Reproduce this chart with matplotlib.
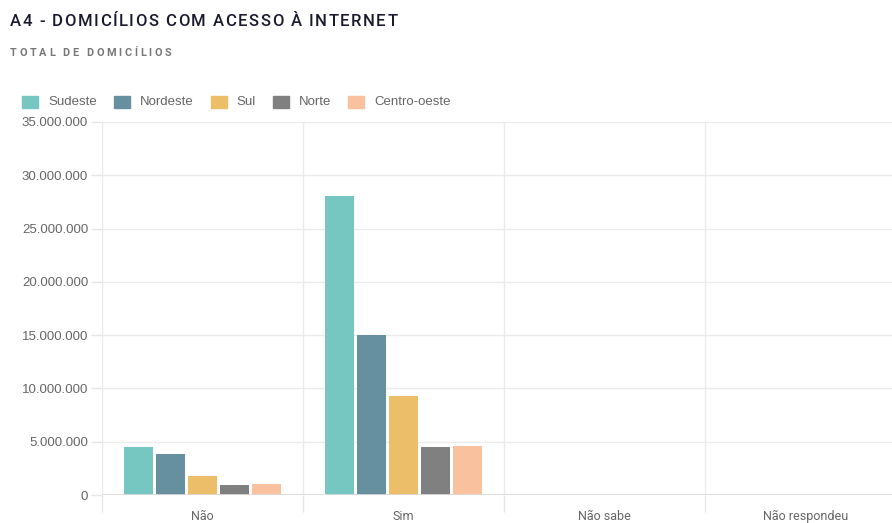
import matplotlib
matplotlib.use('Agg')
import matplotlib.pyplot as plt
from matplotlib.patches import Rectangle
import numpy as np

categories = ['Não', 'Sim', 'Não sabe', 'Não respondeu']
regions = ['Sudeste', 'Nordeste', 'Sul', 'Norte', 'Centro-oeste']
colors = ['#76c6c1', '#668fa0', '#edbe6a', '#808080', '#f9c19d']

# households per region, one list per answer category
sudeste = [4500000, 28050000, 30000, 20000]
nordeste = [3850000, 15000000, 25000, 15000]
sul = [1800000, 9300000, 10000, 8000]
norte = [950000, 4500000, 8000, 5000]
centro_oeste = [1000000, 4600000, 8000, 5000]
series = [sudeste, nordeste, sul, norte, centro_oeste]

y_ticks = [0, 5000000, 10000000, 15000000, 20000000, 25000000, 30000000, 35000000]

W, H = 892, 523
fig = plt.figure(figsize=(W / 100, H / 100), dpi=100)
# axes wider than the figure: the last category is cut at the right edge
ax = fig.add_axes([102 / W, 28 / H, 804 / W, 373 / H])

x = np.arange(len(categories))
bar_w = 0.145
step = 0.16
for i, (name, vals, c) in enumerate(zip(regions, series, colors)):
    ax.bar(x + (i - 2) * step, vals, width=bar_w, color=c, label=name, zorder=3)

ax.set_xlim(-0.5, len(categories) - 0.5)
ax.set_ylim(0, 35000000)
ax.set_yticks(y_ticks)
ax.set_yticklabels([format(v, ',').replace(',', '.') for v in y_ticks])
ax.set_xticks(x)
ax.set_xticklabels(categories)
ax.set_xticks(np.arange(-0.5, len(categories), 1.0), minor=True)

for s in ax.spines.values():
    s.set_visible(False)
ax.axhline(0, color='#d9d9d9', linewidth=2, zorder=4)

ax.grid(True, axis='y', color='#ebebeb', linewidth=1, zorder=0)
ax.grid(True, axis='x', which='minor', color='#ebebeb', linewidth=1, zorder=0)
ax.tick_params(axis='x', which='major', length=0, pad=10.5, labelsize=9, labelcolor='#666666')
ax.tick_params(axis='x', which='minor', length=12, color='#e6e6e6', width=1)
ax.tick_params(axis='y', length=8, color='#e6e6e6', width=1, pad=2, labelsize=9.5, labelcolor='#666666')
for t in ax.get_xticklabels():
    t.set_fontfamily('Roboto')
for t in ax.get_yticklabels():
    t.set_fontfamily('Liberation Sans')

fig.canvas.draw()
renderer = fig.canvas.get_renderer()


def tracked_text(x0, yc, s, spacing, **kw):
    """Draw text char by char with extra letter spacing (pixels)."""
    for ch in s:
        t = fig.text(x0 / W, yc, ch, va='center', ha='left', **kw)
        x0 += t.get_window_extent(renderer).width + spacing
    return x0


tracked_text(10, 1 - 22 / H, 'A4 - DOMICÍLIOS COM ACESSO À INTERNET', 1.5,
             fontsize=12, fontweight='medium', fontfamily='Roboto', color='#1a1a2e')
tracked_text(10, 1 - 53 / H, 'TOTAL DE DOMICÍLIOS', 2.6,
             fontsize=7.8, fontweight='bold', fontfamily='Roboto', color='#777777')

# legend drawn as a row of swatches
lx = 22
ly = 1 - 102 / H
for name, c in zip(regions, colors):
    fig.patches.append(Rectangle((lx / W, ly - 6 / H), 16 / W, 12 / H, color=c,
                                 transform=fig.transFigure, figure=fig))
    t = fig.text((lx + 26) / W, ly, name, fontsize=9.5, fontfamily='Liberation Sans',
                 color='#666666', va='center', ha='left')
    tw = t.get_window_extent(renderer).width
    lx += 26 + tw + 17

fig.savefig('out.png', dpi=100)
